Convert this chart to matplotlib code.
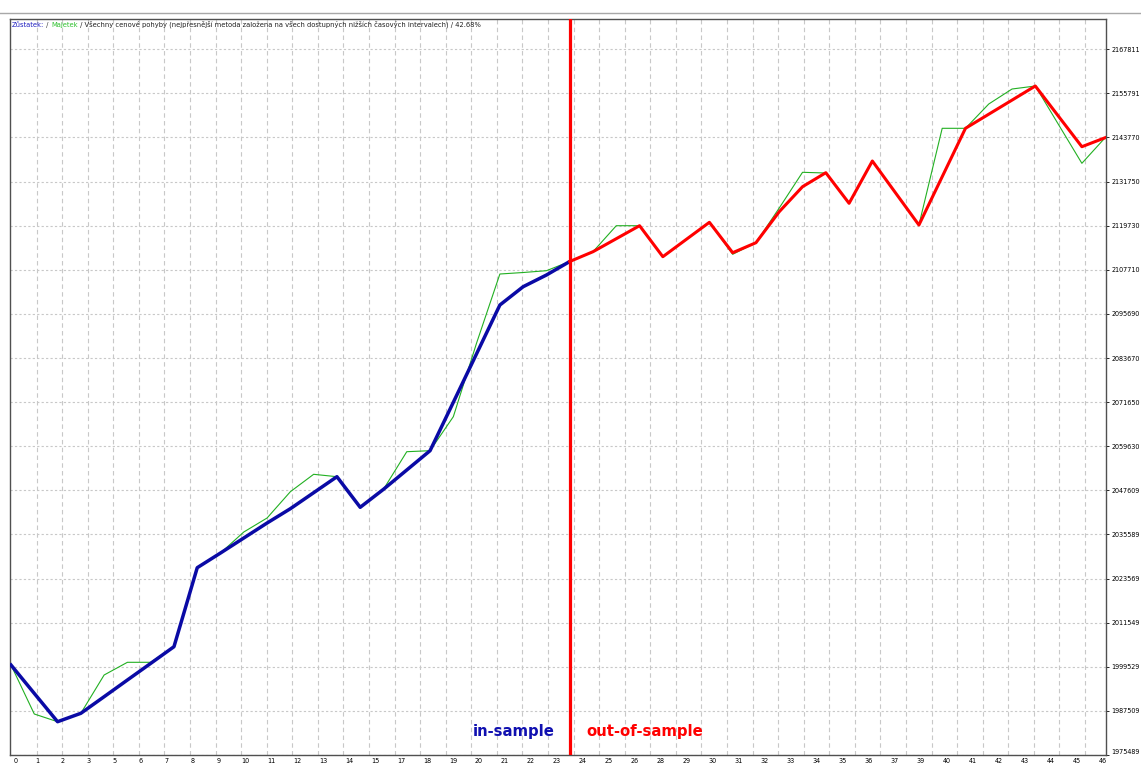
import numpy as np
import matplotlib.pyplot as plt
from matplotlib import font_manager
from matplotlib.font_manager import FontProperties

# balance (in-sample part, trades 0..24)
balance_in = [2000014, 1992275, 1984563, 1986852, 1991376, 1995927, 2000450, 2005001,
              2026528, 2030534, 2034622, 2038709, 2042606, 2046966, 2051326, 2042987,
              2047892, 2053152, 2058411, 2071600, 2084843, 2098114, 2103101, 2106289,
              2109968]
# balance (out-of-sample part, trades 24..47)
balance_out = [2109968, 2112638, 2116181, 2119723, 2111276, 2115963, 2120650, 2112366,
               2115091, 2123538, 2130351, 2134166, 2125827, 2137354, 2128634, 2119914,
               2133076, 2146265, 2150107, 2153949, 2157792, 2149508, 2141251, 2143703]
# equity (trades 0..47)
equity = [2000014, 1986662, 1984563, 1986852, 1997289, 2000750, 2000750, 2005001,
          2026528, 2030534, 2036257, 2040072, 2047238, 2051980, 2051326, 2042987,
          2047892, 2058138, 2058411, 2067676, 2087759, 2106562, 2106970, 2107461,
          2109968, 2112638, 2119723, 2119723, 2111276, 2115963, 2120650, 2111930,
          2115091, 2124547, 2134275, 2134084, 2125827, 2137354, 2128634, 2119914,
          2146265, 2146265, 2152887, 2156974, 2157792, 2147246, 2136727, 2143703]
split_trade = 24

x_labels = [0, 1, 2, 3, 5, 6, 7, 8, 9, 10, 11, 12, 13, 14, 15, 17, 18, 19, 20, 21, 22,
            23, 24, 25, 26, 28, 29, 30, 31, 32, 33, 34, 35, 36, 37, 39, 40, 41, 42, 43,
            44, 45, 46]
y_ticks = [1975489, 1987509, 1999529, 2011549, 2023569, 2035589, 2047609, 2059630,
           2071650, 2083670, 2095690, 2107710, 2119730, 2131750, 2143770, 2155791,
           2167811]


def narrow_font(bold):
    # look for a condensed / narrow sans face, else plain Liberation Sans
    best = None
    for f in font_manager.fontManager.ttflist:
        nm = (f.name + ' ' + f.fname).lower()
        if 'mono' in nm or 'serif' in nm.replace('sans', ''):
            continue
        cond = 'narrow' in nm or 'condensed' in nm or str(f.stretch) in (
            'condensed', 'semi-condensed', 'extra-condensed')
        if not cond or 'oblique' in nm or 'italic' in nm:
            continue
        w = f.weight if isinstance(f.weight, int) else {'bold': 700, 'normal': 400,
                                                        'regular': 400}.get(str(f.weight), 400)
        if (w >= 600) == bold:
            best = f.fname
            if 'dejavu' in nm or 'liberation' in nm:
                break
    if best:
        return FontProperties(fname=best)
    return FontProperties(family='Liberation Sans', weight='bold' if bold else 'normal')


fp_reg = narrow_font(False)
fp_bold = narrow_font(True)


def fprop(base, size):
    p = base.copy()
    p.set_size(size)
    return p


W, H = 1141, 770
fig = plt.figure(figsize=(W / 100, H / 100), dpi=100)
ax = fig.add_axes([10 / W, 15 / H, 1096 / W, 736 / H])

x_in = np.arange(len(balance_in))
x_out = np.arange(split_trade, split_trade + len(balance_out))
x_eq = np.arange(len(equity))

ax.plot(x_eq, equity, color='#22b022', lw=0.8, zorder=3)
ax.plot(x_in, balance_in, color='#0a0aa5', lw=2.5, zorder=4)
ax.plot(x_out, balance_out, color='#ff0000', lw=2.2, zorder=4)
ax.axvline(split_trade, color='#ff0000', lw=2.3, zorder=5)

px = 23.28  # pixels per trade
ax.set_xlim(-1 / px, 1095 / px)
ax.set_ylim(y_ticks[0], y_ticks[0] + 736 * (y_ticks[-1] - y_ticks[0]) / 16 / 44.11)

# x labels and grid are on slightly different spacing (as in the terminal)
lab_pos = np.arange(len(x_labels)) * 26.0 / px
lab_pos[0] = 4.5 / px
ax.set_xticks(lab_pos)
ax.set_xticklabels([str(v) for v in x_labels])
ax.set_xticks(np.arange(1, 43) * 25.57 / px, minor=True)

ax.yaxis.tick_right()
ax.set_yticks(y_ticks)
ax.set_yticklabels([str(v) for v in y_ticks])

ax.grid(which='minor', axis='x', color='#c8c8c8', lw=0.8, linestyle=(0, (4, 3)))
ax.grid(which='major', axis='y', color='#c8c8c8', lw=0.8, linestyle=(0, (2, 2)))
ax.grid(which='major', axis='x', visible=False)

ax.tick_params(axis='x', which='both', length=0, pad=2.5)
ax.tick_params(axis='y', length=2, pad=2, width=0.6)

for s in ax.spines.values():
    s.set_color('#505050')
    s.set_linewidth(1)

# header line
header = [('Zůstatek:', '#2020c0'), (' / ', '#404040'), ('Majetek', '#30c030'),
          (' / Všechny cenové pohyby (nejpřesnější metoda založena na všech dostupných '
           'nižších časových intervalech) / 42.68%', '#202020')]
head_texts = []
t = ax.text(0.002, 1 - 6 / 736, header[0][0], transform=ax.transAxes, color=header[0][1],
            va='center', ha='left', fontproperties=fprop(fp_reg, 7))
head_texts.append(t)
for txt, col in header[1:]:
    t = ax.annotate(txt, xy=(1, 0), xycoords=t, va='bottom', ha='left',
                    fontproperties=fprop(fp_reg, 7), color=col)
    head_texts.append(t)

t_in = ax.text(0.4973, 0.0262, 'in-sample', transform=ax.transAxes, ha='right',
               va='baseline', fontproperties=fprop(fp_bold, 15), color='#1010b0')
t_out = ax.text(0.5262, 0.0262, 'out-of-sample', transform=ax.transAxes, ha='left',
                va='baseline', fontproperties=fprop(fp_bold, 15), color='#ff0000')

fig.add_artist(plt.Line2D([0, 1], [1 - 12.5 / H] * 2, transform=fig.transFigure,
                          color='#a8a8a8', lw=1))

# fit text sizes to the widths seen in the reference
for lab in ax.get_xticklabels() + ax.get_yticklabels():
    lab.set_fontproperties(fprop(fp_reg, 7))
fig.canvas.draw()
r = fig.canvas.get_renderer()
tick_size = 7 * 28.5 / ax.get_yticklabels()[-1].get_window_extent(r).width
head_w = head_texts[-1].get_window_extent(r).x1 - head_texts[0].get_window_extent(r).x0
head_size = 7 * 468 / head_w
big_size = 15 * 82 / t_in.get_window_extent(r).width

for lab in ax.get_yticklabels():
    lab.set_fontproperties(fprop(fp_reg, tick_size))
for lab in ax.get_xticklabels():
    lab.set_fontproperties(fprop(fp_reg, tick_size))
ax.get_yticklabels()[0].set_va('bottom')
for t in head_texts:
    t.set_fontproperties(fprop(fp_reg, head_size))
t_in.set_fontproperties(fprop(fp_bold, big_size))
t_out.set_fontproperties(fprop(fp_bold, big_size))

fig.savefig('out.png', dpi=100)
